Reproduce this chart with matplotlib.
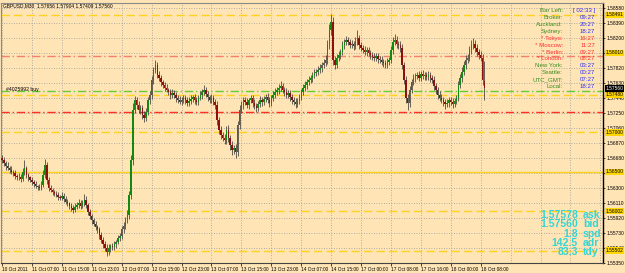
import matplotlib
matplotlib.use("Agg")
import matplotlib.pyplot as plt

# GBPUSD M30 closes, one per bar from 10 Oct 23:00 to 18 Oct 09:00
closes = [
    1.5665, 1.5661, 1.5658, 1.5655, 1.5653, 1.5650,
    1.5648, 1.5645, 1.5643, 1.5644, 1.5641,
    1.5650, 1.5655, 1.5646,
    1.5643, 1.5640, 1.5637, 1.5635, 1.5632, 1.5631, 1.5630,
    1.5634, 1.5646, 1.5659, 1.5640,
    1.5630, 1.5627, 1.5625, 1.5622, 1.5621, 1.5618, 1.5617,
    1.5620, 1.5616, 1.5612, 1.5610, 1.5607, 1.5604, 1.5602, 1.5606,
    1.5608, 1.5611, 1.5607, 1.5610, 1.5615, 1.5608,
    1.5599, 1.5594, 1.5589, 1.5584, 1.5580, 1.5577,
    1.5570, 1.5564, 1.5559, 1.5554,
    1.5549, 1.5554, 1.5556, 1.5555,
    1.5559, 1.5561, 1.5566, 1.5569,
    1.5577, 1.5582, 1.5589, 1.5596,
    1.5621, 1.5665,
    1.5729, 1.5741,
    1.5735, 1.5729, 1.5731, 1.5722, 1.5718, 1.5726, 1.5741, 1.5748,
    1.5767, 1.5779, 1.5786,
    1.5773, 1.5769, 1.5764, 1.5760, 1.5757, 1.5754, 1.5751, 1.5748, 1.5750,
    1.5748, 1.5744, 1.5741, 1.5739, 1.5741, 1.5744, 1.5741, 1.5737, 1.5740, 1.5743, 1.5745, 1.5741, 1.5739,
    1.5744, 1.5748, 1.5751, 1.5754, 1.5749, 1.5745, 1.5741, 1.5744, 1.5739, 1.5735,
    1.5716, 1.5703, 1.5697, 1.5693, 1.5691,
    1.5703, 1.5693, 1.5684, 1.5678, 1.5680, 1.5675,
    1.5710, 1.5729, 1.5735, 1.5741,
    1.5739, 1.5735, 1.5741, 1.5744, 1.5737, 1.5734, 1.5731, 1.5736, 1.5741, 1.5739, 1.5743, 1.5745, 1.5741, 1.5737, 1.5744,
    1.5748, 1.5751, 1.5754, 1.5757, 1.5759, 1.5754, 1.5751, 1.5748, 1.5750, 1.5745,
    1.5741, 1.5739, 1.5736, 1.5740, 1.5745,
    1.5751, 1.5757, 1.5760, 1.5764, 1.5767, 1.5769, 1.5773, 1.5776, 1.5777, 1.5779,
    1.5782, 1.5786, 1.5788, 1.5792,
    1.5811, 1.5830, 1.5840,
    1.5792, 1.5786,
    1.5795, 1.5798, 1.5802,
    1.5811, 1.5815, 1.5817, 1.5815,
    1.5811, 1.5812, 1.5810, 1.5815, 1.5820, 1.5811, 1.5807,
    1.5805, 1.5802, 1.5805, 1.5801,
    1.5798, 1.5796, 1.5795, 1.5797, 1.5793,
    1.5792, 1.5789, 1.5788, 1.5786, 1.5789, 1.5792,
    1.5805, 1.5815, 1.5817, 1.5812,
    1.5811, 1.5807,
    1.5786, 1.5767,
    1.5744, 1.5737,
    1.5754, 1.5764, 1.5769, 1.5772, 1.5773, 1.5769,
    1.5774, 1.5772, 1.5773, 1.5770, 1.5773, 1.5769, 1.5767,
    1.5759, 1.5754,
    1.5748, 1.5744, 1.5741, 1.5739, 1.5736, 1.5737, 1.5741, 1.5739, 1.5736, 1.5740, 1.5744,
    1.5760, 1.5769, 1.5777,
    1.5786, 1.5792, 1.5795,
    1.5805, 1.5811, 1.5812, 1.5807,
    1.5802, 1.5798, 1.5795, 1.5766,
    1.5756,
]
first_open = 1.5668
last_open = 1.57656

# upper / lower shadow of each candle, in pips
wick_up = [
    3, 4, 3, 5, 3, 4,
    3, 4, 2, 4, 3,
    5, 10, 3,
    3, 2, 4, 3, 3, 2, 4,
    4, 6, 8, 3,
    3, 4, 3, 2, 4, 3, 3,
    4, 3, 3, 4, 2, 3, 4, 5,
    4, 5, 3, 4, 7, 4,
    3, 4, 3, 3, 4, 3,
    3, 4, 3, 4,
    4, 5, 3, 4,
    4, 3, 4, 4,
    4, 5, 4, 6,
    5, 6,
    8, 5,
    4, 5, 4, 4, 5, 5, 4, 5,
    5, 4, 6,
    4, 5, 4, 3, 4, 4, 3, 4, 5,
    4, 3, 4, 5, 4, 3, 4, 4, 5, 4, 3, 4, 4,
    4, 5, 4, 6, 4, 4, 3, 5, 4, 4,
    5, 4, 5, 4, 5,
    5, 6, 4, 5, 4, 6,
    5, 6, 5, 4,
    4, 5, 3, 4, 4, 5, 4, 4, 5, 4, 3, 4, 5, 4, 4,
    4, 5, 4, 4, 6, 4, 4, 5, 4, 4,
    4, 4, 5, 4, 4,
    4, 4, 5, 4, 5, 4, 4, 5, 4, 5,
    5, 4, 5, 6,
    6, 8, 10,
    6, 5,
    4, 5, 4,
    5, 4, 5, 4,
    4, 5, 4, 6, 10, 4, 4,
    4, 5, 4, 4,
    4, 4, 5, 4, 4,
    4, 5, 4, 4, 5, 4,
    5, 6, 8, 5,
    4, 5,
    5, 4,
    4, 5,
    5, 4, 5, 4, 4, 5,
    4, 5, 4, 4, 5, 4, 4,
    4, 4,
    4, 4, 5, 4, 4, 5, 4, 4, 5, 4, 4,
    5, 5, 6,
    5, 6, 5,
    5, 6, 8, 5,
    5, 4, 5, 4,
    25,
]
wick_dn = [
    4, 3, 5, 3, 4, 3,
    3, 4, 3, 3, 4,
    3, 4, 4,
    4, 3, 3, 4, 3, 4, 3,
    3, 3, 4, 5,
    4, 3, 4, 3, 3, 4, 3,
    3, 4, 3, 3, 4, 3, 4, 3,
    3, 4, 4, 3, 3, 4,
    4, 4, 5, 3, 4, 4,
    5, 4, 5, 4,
    6, 4, 5, 4,
    4, 5, 3, 4,
    4, 4, 5, 4,
    6, 5,
    6, 4,
    5, 4, 6, 5, 5, 4, 4, 5,
    5, 6, 4,
    4, 4, 5, 4, 4, 3, 4, 5, 4,
    4, 5, 4, 3, 4, 4, 5, 4, 3, 4, 4, 5, 4,
    4, 3, 5, 4, 4, 5, 4, 3, 4, 5,
    6, 5, 5, 4, 6,
    5, 5, 6, 6, 5, 7,
    5, 5, 4, 5,
    4, 4, 5, 4, 5, 4, 5, 4, 4, 5, 4, 4, 4, 5, 4,
    4, 4, 4, 5, 4, 4, 5, 4, 4, 5,
    5, 4, 5, 4, 4,
    4, 4, 4, 5, 4, 4, 5, 4, 4, 4,
    4, 5, 4, 4,
    5, 5, 6,
    6, 5,
    4, 4, 5,
    4, 5, 4, 4,
    4, 4, 5, 4, 4, 5, 4,
    4, 4, 5, 4,
    5, 4, 4, 4, 5,
    4, 4, 5, 4, 4, 4,
    4, 5, 4, 5,
    5, 5,
    6, 6,
    6, 9,
    5, 4, 4, 5, 4, 4,
    4, 4, 5, 4, 4, 5, 4,
    5, 5,
    5, 4, 4, 5, 6, 4, 5, 4, 5, 4, 4,
    4, 4, 5,
    4, 5, 4,
    4, 5, 5, 5,
    5, 5, 4, 6,
    15,
]

time_labels = ["10 Oct 2011", "11 Oct 07:00", "11 Oct 15:00", "11 Oct 23:00", "12 Oct 07:00",
               "12 Oct 15:00", "12 Oct 23:00", "13 Oct 07:00", "13 Oct 15:00", "13 Oct 23:00",
               "14 Oct 07:00", "14 Oct 15:00", "17 Oct 00:00", "17 Oct 08:00", "17 Oct 16:00",
               "18 Oct 00:00", "18 Oct 08:00"]
time_bars = [0, 16, 32, 48, 64, 80, 96, 112, 128, 144, 160, 176, 192, 208, 224, 240, 256]

price_ticks = [1.55350, 1.55540, 1.55730, 1.55920, 1.56110, 1.56300, 1.56490, 1.56680, 1.56870,
               1.57060, 1.57250, 1.57440, 1.57630, 1.57820, 1.58010, 1.58200, 1.58390, 1.58580]

# horizontal levels drawn on the chart
levels = [1.5849, 1.5797, 1.5752, 1.5748, 1.5726, 1.5700, 1.5650, 1.5600, 1.5550]
level_styles = [("#FFD21F", (0, (6, 3))), ("#F08070", (0, (6, 2, 1, 2))), ("#66CC33", (0, (6, 2, 1, 2))),
                ("#FFD21F", (0, (6, 3))), ("#FF3020", (0, (6, 2, 1, 2))), ("#FFD21F", (0, (6, 3))),
                ("#FFD21F", "-"), ("#FFD21F", (0, (6, 3))), ("#FFD21F", (0, (6, 3)))]
marked = [1.58491, 1.58010, 1.57480, 1.57000, 1.56500, 1.56002, 1.55502]
bid = 1.57560

clock_names = ["Bar Left:", "Broker:", "Auckland:", "Sydney:", "* Tokyo:", "* Moscow:",
               "* Berlin:", "* London:", "New York:", "Seattle:", "UTC_GMT:", "Local:"]
clock_times = ["[ 02:33 ]", "09:27", "20:27", "18:27", "16:27", "11:27",
               "09:27", "08:27", "03:27", "00:27", "07:27", "18:27"]
clock_open = [False, False, False, False, True, True, True, True, False, False, False, False]

stats_vals = ["1.57578", "1.57560", "1.8", "142.5", "83.3"]
stats_keys = ["ask", "bid", "spd", "adr", "tdy"]

W, H = 625, 273
BG = "#FFE4B5"
fnt = ["Liberation Sans", "DejaVu Sans"]
fig = plt.figure(figsize=(W / 100, H / 100), dpi=100, facecolor=BG)
ax = fig.add_axes([1 / W, 1 - 263 / H, 602 / W, 260 / H])
ax.set_facecolor(BG)

# candles
opens = [first_open] + closes[:-1]
opens[-1] = last_open
highs = [max(o, c) + u * 0.0001 for o, c, u in zip(opens, closes, wick_up)]
lows = [min(o, c) - d * 0.0001 for o, c, d in zip(opens, closes, wick_dn)]
idx = list(range(len(closes)))
ax.vlines(idx, lows, highs, color="#4f4a42", lw=0.6, zorder=3)
bodies = [max(abs(c - o), 0.00006) for o, c in zip(opens, closes)]
bottoms = [min(o, c) for o, c in zip(opens, closes)]
cols = ["#108A10" if c >= o else "#8B1010" for o, c in zip(opens, closes)]
ax.bar(idx, bodies, bottom=bottoms, width=0.75, color=cols, lw=0, zorder=4)

for lv, (col, ls) in zip(levels, level_styles):
    ax.axhline(lv, color=col, ls=ls, lw=1.0, zorder=2)

ax.set_xlim(-0.55, 321.4)
ax.set_ylim(1.55345, 1.58642)

# grid
for b in range(0, 321, 16):
    ax.axvline(b, color="#9a9a9a", ls=(0, (1, 2)), lw=0.6, zorder=1)
for p in price_ticks:
    ax.axhline(p, color="#9a9a9a", ls=(0, (1, 2)), lw=0.6, zorder=1)

ax.yaxis.tick_right()
ax.set_yticks(price_ticks)
ax.set_yticklabels([f"{p:.5f}" for p in price_ticks], fontsize=3.5, family=fnt)
ax.tick_params(axis="y", length=1.5, width=0.5, pad=0.8)
ax.set_xticks(time_bars)
ax.set_xticklabels(time_labels, fontsize=3.4, ha="left", family=fnt)
ax.tick_params(axis="x", length=2, width=0.5, pad=1.2)

for s in ["top", "left"]:
    ax.spines[s].set_color("#8a8a8a")
    ax.spines[s].set_linewidth(0.8)
ax.spines["right"].set_color("black")
ax.spines["right"].set_linewidth(1.0)
ax.spines["bottom"].set_color("#444444")
ax.spines["bottom"].set_linewidth(0.8)

# price labels of the drawn levels and of the bid
ytr = ax.get_yaxis_transform()
for m in marked:
    ax.text(1.0045, m, f"{m:.5f}", transform=ytr, fontsize=3.5, ha="left", va="center",
            family=fnt, clip_on=False,
            bbox=dict(boxstyle="square,pad=0.15", fc="#FFD700", ec="none"))
ax.text(1.0045, bid, f"{bid:.5f}", transform=ytr, fontsize=3.5, ha="left", va="center", color="white",
        family=fnt, clip_on=False,
        bbox=dict(boxstyle="square,pad=0.15", fc="black", ec="none"))

fig.text(3 / W, 1 - 6 / H, "GBPUSD,M30  1.57656 1.57904 1.57409 1.57560", fontsize=3.5,
         va="center", family=fnt)
fig.text(6 / W, 1 - 89 / H, "#4025992 buy", fontsize=3.7, va="center", family=fnt)

# clock panel
for k, (nm, tm, op) in enumerate(zip(clock_names, clock_times, clock_open)):
    y = 1 - (10.7 + 6.9 * k) / H
    fig.text(563 / W, y, nm, fontsize=4.4, ha="right", va="center", family=fnt,
             color="#FF3030" if op else "#3A8C22")
    fig.text(595 / W, y, tm, fontsize=4.4, ha="right", va="center", family=fnt,
             color="#FF3030" if op else "#3030FF")

# ask / bid / spread box
for k, (v, key) in enumerate(zip(stats_vals, stats_keys)):
    y = 1 - (215 + 9.3 * k) / H
    fig.text(578 / W, y, v, fontsize=7.6, weight="bold", ha="right", va="center",
             family=fnt, color="#33D6D6")
    fig.text(583 / W, y, key, fontsize=7.6, weight="bold", ha="left", va="center",
             family=fnt, color="#33D6D6")

fig.savefig("out.png", dpi=100, facecolor=BG)
